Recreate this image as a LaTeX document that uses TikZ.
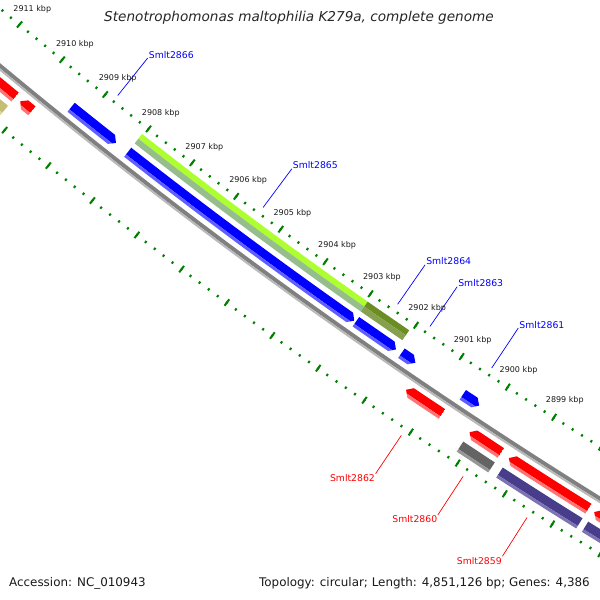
\documentclass[tikz,border=0pt]{standalone}
\usepackage{fontspec}
\setmainfont{DejaVu Sans}
\usepackage{tikz}

\definecolor{rulegreen}{RGB}{0,128,0}
\definecolor{fwdblue}{RGB}{0,0,255}
\definecolor{fwdbluelt}{RGB}{95,95,255}
\definecolor{revred}{RGB}{255,0,0}
\definecolor{revredlt}{RGB}{255,115,115}
\definecolor{bbgray}{RGB}{128,128,128}
\definecolor{bbgraylt}{RGB}{185,185,185}
\definecolor{cogyg}{RGB}{173,255,47}
\definecolor{cogyglt}{RGB}{150,190,140}
\definecolor{cogolive}{RGB}{107,142,35}
\definecolor{cogolivelt}{RGB}{135,160,80}
\definecolor{coggray}{RGB}{100,100,100}
\definecolor{coggraylt}{RGB}{150,150,150}
\definecolor{cogpurple}{RGB}{72,61,139}
\definecolor{cogpurplelt}{RGB}{125,115,180}
\definecolor{cogkhaki}{RGB}{195,190,115}
\definecolor{cogkhakilt}{RGB}{220,215,160}

\begin{document}
\begin{tikzpicture}[x=1pt,y=1pt,
    majortick/.style={rulegreen,line width=2pt},
    minortick/.style={rulegreen,line width=2pt},
    kbplabel/.style={font=\fontsize{8}{9}\selectfont,text=black!90,inner sep=0pt},
    fwdlabel/.style={font=\fontsize{9.3}{11}\selectfont,text=fwdblue,anchor=base west,inner sep=1pt},
    revlabel/.style={font=\fontsize{9.3}{11}\selectfont,text=revred,anchor=north east,inner sep=0.5pt}]
        \useasboundingbox (0,0) rectangle (600,-600);
        \clip (0,0) rectangle (600,-600);

        \node[font=\fontsize{13.6}{16}\selectfont\itshape,text=black!85,anchor=base,inner sep=0pt] (title) at (299,-21) {Stenotrophomonas maltophilia K279a, complete genome};
        \node[font=\fontsize{11.9}{14}\selectfont,text=black!90,anchor=base west,inner sep=0pt] (acc) at (9,-586) {Accession: NC\_010943};
        \node[font=\fontsize{11.9}{14}\selectfont,text=black!90,anchor=base east,inner sep=0pt] (topo) at (590,-586) {Topology: circular; Length: 4,851,126 bp; Genes: 4,386};

        \begin{scope}[shift={(3445,4077)}]
            % ruler, inner and outer
            \foreach \i in {0,...,80} {
                \draw[minortick] ({229.54+0.1186*\i}:5343) -- ({229.54+0.1186*\i}:5345.5);
                \draw[minortick] ({229.54+0.1186*\i}:5434) -- ({229.54+0.1186*\i}:5436.5);
            }
            \foreach \k in {0,...,16} {
                \draw[majortick] ({229.54+0.593*\k}:5340) -- ({229.54+0.593*\k}:5348);
                \draw[majortick] ({229.54+0.593*\k}:5431) -- ({229.54+0.593*\k}:5439);
            }
            \foreach \k in {2899,...,2911} {
                \node[kbplabel] (k\k) at ({231.91+0.593*(2908-\k)}:5324) {\k\ kbp};
            }

            % backbone
            \fill[bbgray] (228:5386) arc[start angle=228,end angle=240,radius=5386] -- (240:5390) arc[start angle=240,end angle=228,radius=5390] -- cycle;
            \fill[bbgraylt] (228:5390) arc[start angle=228,end angle=240,radius=5390] -- (240:5392) arc[start angle=240,end angle=228,radius=5392] -- cycle;

            % forward genes
            \foreach \a/\b in {231.12/231.73, 231.89/234.90, 234.92/235.44, 235.51/235.69, 236.30/236.51} {
                \begin{scope}
                    \clip (\a:5369.5) arc[start angle=\a,end angle={\b-0.06},radius=5369.5] -- (\b:5375.25) -- ({\b-0.06}:5381) arc[start angle={\b-0.06},end angle=\a,radius=5381] -- cycle;
                    \fill[fwdblue] (\a:5360) arc[start angle=\a,end angle=\b,radius=5360] -- (\b:5378) arc[start angle=\b,end angle=\a,radius=5378] -- cycle;
                    \fill[fwdbluelt] (\a:5378) arc[start angle=\a,end angle=\b,radius=5378] -- (\b:5390) arc[start angle=\b,end angle=\a,radius=5390] -- cycle;
                \end{scope}
            }

            % reverse genes
            \foreach \a/\b in {228.50/230.59, 230.66/230.82, 235.77/236.23, 236.58/236.98, 237.08/238.08, 238.15/240.00} {
                \begin{scope}
                    \clip (\a:5402.75) -- ({\a+0.06}:5397) arc[start angle={\a+0.06},end angle=\b,radius=5397] -- (\b:5408.5) arc[start angle=\b,end angle={\a+0.06},radius=5408.5] -- cycle;
                    \fill[revred] (\a:5390) arc[start angle=\a,end angle=\b,radius=5390] -- (\b:5405.5) arc[start angle=\b,end angle=\a,radius=5405.5] -- cycle;
                    \fill[revredlt] (\a:5405.5) arc[start angle=\a,end angle=\b,radius=5405.5] -- (\b:5415) arc[start angle=\b,end angle=\a,radius=5415] -- cycle;
                \end{scope}
            }

            % COG classes
            \foreach \a/\b/\c in {231.89/234.90/cogyg, 234.90/235.44/cogolive} {
                \fill[\c] (\a:5352) arc[start angle=\a,end angle=\b,radius=5352] -- (\b:5358) arc[start angle=\b,end angle=\a,radius=5358] -- cycle;
                \fill[\c lt] (\a:5358) arc[start angle=\a,end angle=\b,radius=5358] -- (\b:5364) arc[start angle=\b,end angle=\a,radius=5364] -- cycle;
            }
            \foreach \a/\b/\c in {228.50/230.59/cogkhaki, 236.58/236.98/coggray, 237.08/238.08/cogpurple, 238.15/240.00/cogpurple} {
                \fill[\c] (\a:5414) arc[start angle=\a,end angle=\b,radius=5414] -- (\b:5423) arc[start angle=\b,end angle=\a,radius=5423] -- cycle;
                \fill[\c lt] (\a:5423) arc[start angle=\a,end angle=\b,radius=5423] -- (\b:5426) arc[start angle=\b,end angle=\a,radius=5426] -- cycle;
            }

            % gene labels
            \foreach \t/\g in {231.43/2866, 233.40/2865, 235.18/2864, 235.60/2863, 236.40/2861} {
                \coordinate (s\g) at (\t:5337);
                \node[fwdlabel] (l\g) at (\t:5289) {Smlt\g};
                \draw[fwdblue,line width=0.7pt] (s\g) -- (l\g.base west);
            }
            \foreach \t/\g in {236.00/2862, 236.78/2860, 237.58/2859} {
                \coordinate (s\g) at (\t:5443);
                \node[revlabel] (l\g) at (\t:5489) {Smlt\g};
                \draw[revred,line width=0.7pt] (s\g) -- (l\g.north east);
            }
        \end{scope}
\end{tikzpicture}
\end{document}
